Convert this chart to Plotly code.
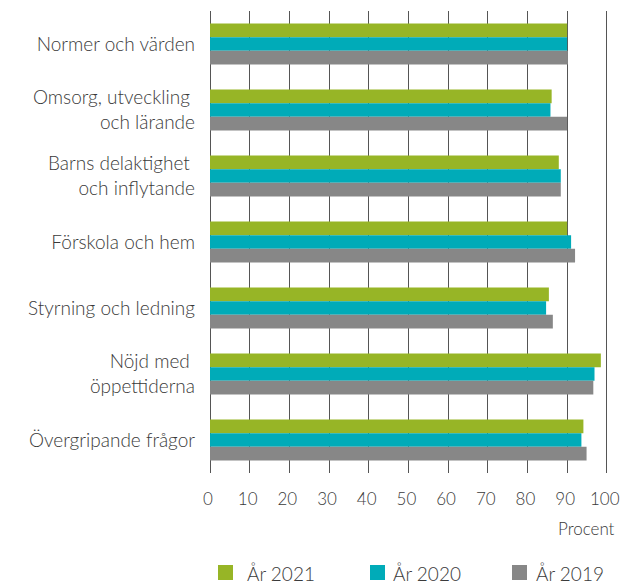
import plotly.graph_objects as go

categories = [
    "Normer och värden",
    "Omsorg, utveckling <br>och lärande",
    "Barns delaktighet <br>och inflytande",
    "Förskola och hem",
    "Styrning och ledning",
    "Nöjd med <br>öppettiderna",
    "Övergripande frågor",
]
series_names = ["År 2021", "År 2020", "År 2019"]
values_2021 = [90.0, 86.1, 87.9, 90.0, 85.4, 98.5, 94.1]
values_2020 = [90.0, 85.8, 88.4, 91.0, 84.7, 96.9, 93.6]
values_2019 = [90.2, 90.0, 88.4, 92.0, 86.4, 96.6, 94.9]
x_ticks = [0, 10, 20, 30, 40, 50, 60, 70, 80, 90, 100]

colors = ["#97b526", "#00abb8", "#878787"]
font_family = "Lato, 'Open Sans', sans-serif"
text_color = "#3a3a3a"

W, H = 620, 585
ML, MR, MT, MB = 210, 12, 11, 112
PW, PH = W - ML - MR, H - MT - MB


def px_x(px):
    return (px - ML) / PW


def px_y(py):
    return (H - MB - py) / PH


fig = go.Figure()
for name, vals, col in zip(series_names, [values_2021, values_2020, values_2019], colors):
    fig.add_trace(go.Bar(
        y=categories, x=vals, name=name, orientation="h",
        marker=dict(color=col, line=dict(width=0)),
        hoverinfo="skip", showlegend=False,
    ))

# legend drawn as swatches + text (positions in pixels of the figure)
legend_swatch_left = [218, 370, 512]
legend_text_left = [246, 392, 535]
shapes = []
annotations = []
for name, col, sx, tx in zip(series_names, colors, legend_swatch_left, legend_text_left):
    shapes.append(dict(
        type="rect", xref="paper", yref="paper",
        x0=px_x(sx), x1=px_x(sx + 15), y0=px_y(580), y1=px_y(565),
        fillcolor=col, line=dict(width=0), layer="above",
    ))
    annotations.append(dict(
        text=name, xref="paper", yref="paper", x=px_x(tx), y=px_y(573),
        xanchor="left", yanchor="middle", showarrow=False,
        font=dict(size=19, color=text_color, weight=300), xshift=-1,
    ))

annotations.append(dict(
    text="Procent", xref="paper", yref="paper", x=px_x(617), y=px_y(528),
    xanchor="right", yanchor="middle", showarrow=False,
    font=dict(size=17, color=text_color, weight=300),
))

fig.update_layout(
    width=W, height=H,
    margin=dict(l=ML, r=MR, t=MT, b=MB),
    paper_bgcolor="white", plot_bgcolor="white",
    barmode="group", bargap=0.38, bargroupgap=0,
    font=dict(family=font_family, size=17, color=text_color, weight=300),
    showlegend=False,
    xaxis=dict(
        range=[0, 100.3], tickvals=x_ticks, showgrid=True, gridcolor="#555555",
        gridwidth=1, zeroline=True, zerolinecolor="#555555", zerolinewidth=1,
        showline=False, ticks="", ticklabeloverflow="allow", automargin=False,
        ticklabelstandoff=14, ticklabelshift=-2,
        tickfont=dict(size=17, color=text_color, weight=300),
        fixedrange=True,
    ),
    yaxis=dict(
        autorange="reversed", showgrid=False, ticks="", ticklabelstandoff=14,
        tickfont=dict(size=19, color=text_color, weight=300), showline=False,
        automargin=False, fixedrange=True,
    ),
    shapes=shapes,
    annotations=annotations,
)

fig.write_html("out.html", config={"displayModeBar": False, "staticPlot": True},
               post_script="document.body.style.margin='0';")
